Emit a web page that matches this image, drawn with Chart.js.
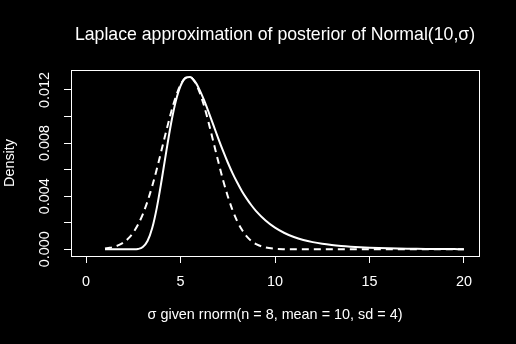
<!DOCTYPE html>
<html><head><meta charset="utf-8">
<script src="https://cdn.jsdelivr.net/npm/chart.js@4/dist/chart.umd.min.js"></script>
<style>html,body{margin:0;padding:0;background:#000;}#wrap{width:516px;height:344px;}canvas{display:block;}</style>
</head><body><div id="wrap"><canvas id="c" width="516" height="344"></canvas></div>
<script>
const sigmaGrid = [1.0,1.25,1.5,1.75,2.0,2.25,2.5,2.75,3.0,3.25,3.5,3.75,4.0,4.25,4.5,4.75,5.0,5.25,5.5,5.75,6.0,6.25,6.5,6.75,7.0,7.25,7.5,7.75,8.0,8.25,8.5,8.75,9.0,9.5,10,10.5,11,11.5,12,12.5,13,13.5,14,14.5,15,15.5,16,16.5,17,17.5,18,18.5,19,19.5,20];
const posteriorDensity = [0,0,0,0,0,0.0000001,0.0000024,0.0000289,0.000172,0.000624,0.00160,0.00318,0.00522,0.00742,0.00949,0.01116,0.01230,0.01289,0.01298,0.01266,0.01203,0.01121,0.01028,0.00931,0.00834,0.00741,0.00654,0.00574,0.00503,0.00438,0.00382,0.00332,0.00288,0.00217,0.00163,0.00123,0.000934,0.000711,0.000544,0.000418,0.000324,0.000252,0.000197,0.000155,0.000122,0.0000974,0.0000779,0.0000625,0.0000505,0.0000410,0.0000334,0.0000273,0.0000225,0.0000186,0.0000154];
const laplaceDensity = [0.0000636,0.000114,0.000198,0.000332,0.000538,0.000842,0.00128,0.00187,0.00264,0.00361,0.00476,0.00608,0.00751,0.00895,0.01032,0.01150,0.01239,0.01290,0.01298,0.01262,0.01186,0.01078,0.00946,0.00803,0.00659,0.00522,0.00400,0.00296,0.00212,0.00147,0.000982,0.000634,0.000396,0.000140,0.0000429,0.0000115,0.0000027,0,0,0,0,0,0,0,0,0,0,0,0,0,0,0,0,0,0];
const xTickValues = [0,5,10,15,20];
const xTickLabels = ['0','5','10','15','20'];
const yTickValues = [0,0.002,0.004,0.006,0.008,0.010,0.012];
const yTickLabels = ['0.000','','0.004','','0.008','','0.012'];
const titleText = 'Laplace approximation of posterior of Normal(10,\u03c3)';
const xTitle = '\u03c3 given rnorm(n = 8, mean = 10, sd = 4)';
const yTitle = 'Density';

const FONT = '"Liberation Sans", Arial, Helvetica, sans-serif';
const toPoints = ys => sigmaGrid.map((x, i) => ({x: x, y: ys[i]}));

const bgPlugin = {
  id: 'bg',
  beforeDraw(chart) {
    const ctx = chart.ctx;
    ctx.save(); ctx.fillStyle = '#000'; ctx.fillRect(0, 0, chart.width, chart.height); ctx.restore();
  }
};
const boxPlugin = {
  id: 'box',
  afterDraw(chart) {
    const {ctx, chartArea: a} = chart;
    ctx.save(); ctx.strokeStyle = '#fff'; ctx.lineWidth = 1;
    ctx.strokeRect(Math.round(a.left) + 0.5, Math.round(a.top) + 0.5, Math.round(a.right - a.left), Math.round(a.bottom - a.top));
    ctx.restore();
  }
};

new Chart(document.getElementById('c'), {
  type: 'line',
  data: {
    datasets: [
      {label: 'posterior', data: toPoints(posteriorDensity), borderColor: '#fff', borderWidth: 2, pointRadius: 0, cubicInterpolationMode: 'monotone', fill: false},
      {label: 'Laplace', data: toPoints(laplaceDensity), borderColor: '#fff', borderWidth: 2, borderDash: [7, 5], pointRadius: 0, cubicInterpolationMode: 'monotone', fill: false}
    ]
  },
  options: {
    responsive: false,
    animation: false,
    devicePixelRatio: 1,
    layout: {padding: {left: 0, right: 37, top: 0, bottom: 0}},
    plugins: {
      legend: {display: false},
      tooltip: {enabled: false},
      title: {
        display: true, text: titleText, color: '#fff', fullSize: false, align: 'center',
        font: {family: FONT, size: 17.7, weight: 'normal', lineHeight: 1.2},
        padding: {top: 24.4, bottom: 24.4}
      }
    },
    scales: {
      x: {
        type: 'linear', position: 'bottom', min: -0.8, max: 20.8,
        afterBuildTicks: s => { s.ticks = xTickValues.map(v => ({value: v})); },
        afterFit: s => { s.height = 88; },
        ticks: {
          color: '#fff', autoSkip: false, maxRotation: 0, minRotation: 0, padding: 10,
          font: {family: FONT, size: 14.4, lineHeight: 1.2},
          callback: v => { const i = xTickValues.indexOf(v); return i >= 0 ? xTickLabels[i] : ''; }
        },
        grid: {display: true, drawOnChartArea: false, drawTicks: true, tickLength: 7, color: '#fff', lineWidth: 1},
        border: {display: false},
        title: {display: true, text: xTitle, color: '#fff', font: {family: FONT, size: 14.4, lineHeight: 1.2}, padding: {top: 0, bottom: 20.4}}
      },
      y: {
        type: 'linear', position: 'left', min: -0.0005, max: 0.0135,
        afterBuildTicks: s => { s.ticks = yTickValues.map(v => ({value: v})); },
        afterFit: s => { s.width = 71; },
        ticks: {
          color: '#fff', autoSkip: false, minRotation: 90, maxRotation: 90, crossAlign: 'center', padding: 1,
          font: {family: FONT, size: 14.4, lineHeight: 1.2},
          callback: v => { const i = yTickValues.findIndex(t => Math.abs(t - v) < 1e-9); return i >= 0 ? yTickLabels[i] : ''; }
        },
        grid: {display: true, drawOnChartArea: false, drawTicks: true, tickLength: 7, color: '#fff', lineWidth: 1},
        border: {display: false},
        title: {display: true, text: yTitle, color: '#fff', font: {family: FONT, size: 14.4, lineHeight: 1.2}, padding: {top: 1.4, bottom: 0}}
      }
    }
  },
  plugins: [bgPlugin, boxPlugin]
});
</script>
</body></html>
